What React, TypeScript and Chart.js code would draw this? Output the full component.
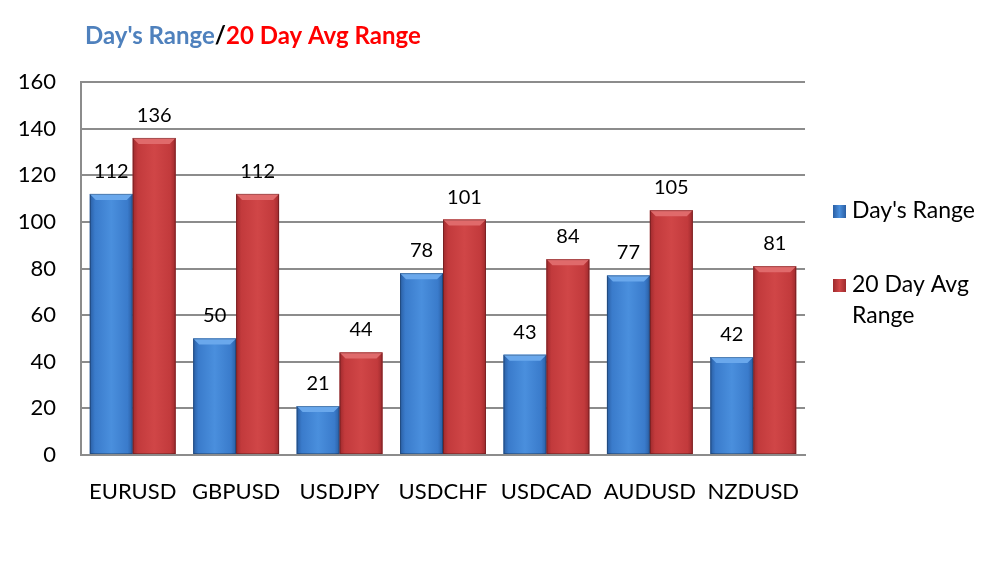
import React, { useEffect, useRef } from "react";
import { Chart, registerables } from "chart.js";

Chart.register(...registerables);

const categories = ["EURUSD", "GBPUSD", "USDJPY", "USDCHF", "USDCAD", "AUDUSD", "NZDUSD"];
const daysRange = [112, 50, 21, 78, 43, 77, 42];
const avgRange = [136, 112, 44, 101, 84, 105, 81];
const yTicks = [0, 20, 40, 60, 80, 100, 120, 140, 160];

const FONT = "Lato, 'Open Sans', sans-serif";

const BLUE = { base: "#3A7BCB", edge: "#2A5EA3", light: "#4A8FDD", top: "#6AA8EC" };
const RED = { base: "#C23A3C", edge: "#9E2A2D", light: "#D04647", top: "#E06A6B" };

const shadePlugin = {
  id: "shade",
  afterDatasetsDraw(chart: any) {
    const ctx = chart.ctx;
    chart.data.datasets.forEach((ds: any, di: number) => {
      const pal = di === 0 ? BLUE : RED;
      const meta = chart.getDatasetMeta(di);
      meta.data.forEach((bar: any, i: number) => {
        const { x, y, base, width } = bar.getProps(["x", "y", "base", "width"], true);
        const l = x - width / 2;
        const r = x + width / 2;
        const g = ctx.createLinearGradient(l, 0, r, 0);
        g.addColorStop(0, pal.edge);
        g.addColorStop(0.12, pal.base);
        g.addColorStop(0.5, pal.light);
        g.addColorStop(0.88, pal.base);
        g.addColorStop(1, pal.edge);
        ctx.save();
        ctx.fillStyle = g;
        ctx.fillRect(l, y, width, base - y);
        // top bevel
        const bv = Math.min(6, (base - y) / 3);
        ctx.fillStyle = pal.top;
        ctx.beginPath();
        ctx.moveTo(l, y);
        ctx.lineTo(r, y);
        ctx.lineTo(r - bv, y + bv);
        ctx.lineTo(l + bv, y + bv);
        ctx.closePath();
        ctx.fill();
        ctx.strokeStyle = "rgba(0,0,0,0.25)";
        ctx.lineWidth = 1;
        ctx.strokeRect(l + 0.5, y + 0.5, width - 1, base - y - 1);
        // value label
        ctx.fillStyle = "#000";
        ctx.font = `20px ${FONT}`;
        ctx.textAlign = "center";
        ctx.textBaseline = "alphabetic";
        ctx.fillText(String(ds.data[i]), x, y - 16);
        ctx.restore();
      });
    });
  },
};

const decorPlugin = {
  id: "decor",
  beforeDraw(chart: any) {
    const ctx = chart.ctx;
    ctx.save();
    ctx.fillStyle = "#fff";
    ctx.fillRect(0, 0, chart.width, chart.height);
    ctx.restore();
  },
  afterDraw(chart: any) {
    const ctx = chart.ctx;
    ctx.save();
    // title
    ctx.font = `bold 24px ${FONT}`;
    ctx.textBaseline = "middle";
    ctx.textAlign = "left";
    let tx = 85;
    const ty = 36;
    const parts: [string, string][] = [
      ["Day's Range", "#4F81BD"],
      ["/", "#000000"],
      ["20 Day Avg Range", "#FF0000"],
    ];
    parts.forEach(([t, c]) => {
      ctx.fillStyle = c;
      ctx.fillText(t, tx, ty);
      tx += ctx.measureText(t).width;
    });
    // legend
    const items: [string[], any][] = [
      [["Day's Range"], BLUE],
      [["20 Day Avg", "Range"], RED],
    ];
    const ys = [211, 285];
    ctx.font = `23px ${FONT}`;
    items.forEach(([lines, pal], k) => {
      const y = ys[k];
      const g = ctx.createLinearGradient(833, 0, 846, 0);
      g.addColorStop(0, pal.edge);
      g.addColorStop(0.5, pal.light);
      g.addColorStop(1, pal.edge);
      ctx.fillStyle = g;
      ctx.fillRect(833, y - 6, 13, 13);
      ctx.fillStyle = "#000";
      ctx.textAlign = "left";
      lines.forEach((ln, j) => ctx.fillText(ln, 852, y + j * 31));
    });
    ctx.restore();
  },
};

export default function App() {
  const ref = useRef<HTMLCanvasElement>(null);
  useEffect(() => {
    document.body.style.margin = "0";
    const chart = new Chart(ref.current!, {
      type: "bar",
      data: {
        labels: categories,
        datasets: [
          { label: "Day's Range", data: daysRange, backgroundColor: BLUE.base, borderWidth: 0 },
          { label: "20 Day Avg Range", data: avgRange, backgroundColor: RED.base, borderWidth: 0 },
        ],
      },
      options: {
        animation: false,
        responsive: false,
        events: [],
        layout: { padding: { left: 0, top: 82, right: 198, bottom: 57 } },
        datasets: { bar: { categoryPercentage: 0.83, barPercentage: 1 } },
        plugins: { legend: { display: false }, title: { display: false }, tooltip: { enabled: false } },
        scales: {
          x: {
            grid: { display: false, drawTicks: false },
            border: { display: true, color: "#8C8C8C", width: 2 },
            ticks: { color: "#000", font: { family: FONT, size: 22 }, padding: 24 },
            afterFit: (s: any) => {
              s.height = 60;
            },
          },
          y: {
            min: 0,
            max: 160,
            afterBuildTicks: (s: any) => {
              s.ticks = yTicks.map((v) => ({ value: v }));
            },
            grid: { color: "#8C8C8C", lineWidth: 2, drawTicks: false },
            border: { display: true, color: "#8C8C8C", width: 2 },
            ticks: { color: "#000", font: { family: FONT, size: 22 }, padding: 25 },
            afterFit: (s: any) => {
              s.width = 81;
            },
          },
        },
      },
      plugins: [decorPlugin, shadePlugin],
    });
    return () => chart.destroy();
  }, []);
  return (
    <div style={{ position: "absolute", left: 0, top: 0, width: 1003, height: 572 }}>
      <canvas ref={ref} width={1003} height={572} />
    </div>
  );
}
